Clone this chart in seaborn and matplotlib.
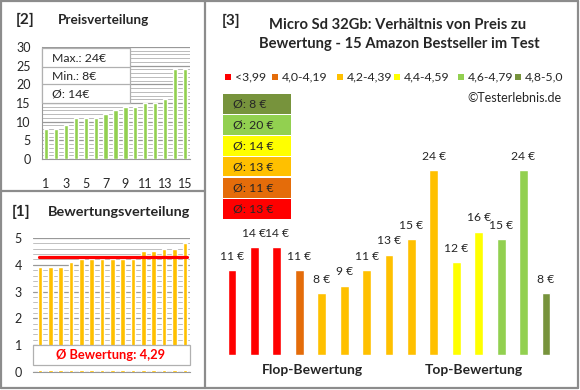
import numpy as np
import pandas as pd
import matplotlib.pyplot as plt
import seaborn as sns
from matplotlib.patches import Rectangle
from matplotlib.lines import Line2D

# data (products sorted by rating)
ratings = [3.9, 3.9, 3.9, 4.1, 4.2, 4.2, 4.2, 4.2, 4.2, 4.2, 4.5, 4.5, 4.6, 4.6, 4.8]
prices = [11, 14, 14, 11, 8, 9, 11, 13, 15, 24, 12, 16, 15, 24, 8]
avg_rating = 4.29
bin_labels = ["<3,99", "4,0-4,19", "4,2-4,39", "4,4-4,59", "4,6-4,79", "4,8-5,0"]
bin_edges = [0, 4.0, 4.2, 4.4, 4.6, 4.8, 5.01]
bin_colors = ["#FF0000", "#E46C0A", "#FFC000", "#FFFF00", "#92D050", "#77933C"]

df = pd.DataFrame({"nr": range(1, 16), "rating": ratings, "price": prices})
df["bin"] = pd.cut(df["rating"], bin_edges, right=False, labels=bin_labels)

sns.set_style("white")
plt.rcParams["font.family"] = ["Lato", "DejaVu Sans"]

W, H = 580, 390
fig = plt.figure(figsize=(W / 100, H / 100), dpi=100)


def box(l, t, r, b):
    return [l / W, 1 - b / H, (r - l) / W, (b - t) / H]


def ftext(x, y, s, **kw):
    fig.text(x / W, 1 - y / H, s, va="center", **kw)


def frect(l, t, r, b, **kw):
    fig.patches.append(Rectangle((l / W, 1 - b / H), (r - l) / W, (b - t) / H,
                                 transform=fig.transFigure, figure=fig, **kw))


def fline(x0, y0, x1, y1, color="#8c8c8c", lw=1.6):
    fig.lines.append(Line2D([x0 / W, x1 / W], [1 - y0 / H, 1 - y1 / H], color=color,
                            lw=lw, transform=fig.transFigure, figure=fig, zorder=6))


# ---- [2] Preisverteilung
ax1 = fig.add_axes(box(42, 47, 190, 159))
sorted_prices = sorted(prices)
sns.barplot(x=list(range(1, 16)), y=sorted_prices, color="#92D050", width=0.42,
            saturation=1, ax=ax1, zorder=3)
ax1.set_xlim(-0.4, 14.5)
ax1.set_ylim(0, 30)
ax1.set_yticks(range(0, 31, 5))
ax1.set_yticks(range(0, 31), minor=True)
ax1.grid(axis="y", which="major", color="#999999", lw=0.9)
ax1.grid(axis="y", which="minor", color="#bbbbbb", lw=0.7)
ax1.set_xticks(range(0, 15, 2))
ax1.set_xticklabels([str(i) for i in range(1, 16, 2)])
ax1.tick_params(axis="x", length=0, pad=14, labelsize=9)
ax1.tick_params(axis="y", length=0, pad=8, labelsize=9)
for s in ["top", "right"]:
    ax1.spines[s].set_visible(False)
for s in ["left", "bottom"]:
    ax1.spines[s].set_color("#999999")
ftext(16, 20, "[2]", fontsize=11, fontweight="bold")
ftext(58, 20, "Preisverteilung", fontsize=9.7, fontweight="bold")
frect(42, 48, 130, 103, facecolor="white", edgecolor="#b0b0b0", lw=0.9, zorder=5)
fline(42, 67, 130, 67, "#b0b0b0", 0.9)
fline(42, 84, 130, 84, "#b0b0b0", 0.9)
ftext(52, 58, f"Max.: {max(prices)}€", fontsize=8.8, zorder=6)
ftext(52, 76, f"Min.: {min(prices)}€", fontsize=8.8, zorder=6)
ftext(52, 94, f"Ø: {int(np.mean(prices) + 0.5)}€", fontsize=8.8, zorder=6)

# ---- [1] Bewertungsverteilung
ax2 = fig.add_axes(box(33, 238, 190, 372))
sns.barplot(x=df["nr"], y=df["rating"], color="#FFC000", width=0.45,
            saturation=1, ax=ax2, zorder=3)
ax2.axhline(avg_rating, xmin=0.04, xmax=0.98, color="#FF0000", lw=2.3, zorder=4)
ax2.set_xlim(-0.68, 14.5)
ax2.set_ylim(0, 5)
ax2.set_yticks(range(0, 6))
ax2.set_yticks(np.arange(0, 5.01, 0.2), minor=True)
ax2.grid(axis="y", which="major", color="#999999", lw=0.9)
ax2.grid(axis="y", which="minor", color="#c0c0c0", lw=0.7)
ax2.set_xticks([])
ax2.set_xlabel("")
ax2.set_ylabel("")
ax2.tick_params(axis="y", length=0, pad=8, labelsize=9)
for s in ["top", "right", "left"]:
    ax2.spines[s].set_visible(False)
ax2.spines["bottom"].set_color("#999999")
ftext(12, 212, "[1]", fontsize=11, fontweight="bold")
ftext(48, 212, "Bewertungsverteilung", fontsize=10.4, fontweight="bold")
frect(33, 365, 190, 371.3, facecolor="white", edgecolor="none", zorder=5)
frect(33, 345, 190, 365, facecolor="white", edgecolor="#b0b0b0", lw=0.9, zorder=5)
ftext(111, 355, "Ø Bewertung: " + f"{avg_rating:.2f}".replace(".", ","),
      fontsize=9.3, fontweight="bold", color="#FF0000", ha="center", zorder=6)

# ---- [3] Preis vs. Bewertung
ax3 = fig.add_axes(box(220.8, 123.7, 557.2, 355))
sns.barplot(data=df, x="nr", y="price", hue="bin", palette=bin_colors, width=0.4,
            dodge=False, saturation=1, legend=False, ax=ax3)
ax3.set_xlim(-0.5, 14.5)
ax3.set_ylim(0, 30)
ax3.axis("off")
for i, p in enumerate(prices):
    ax3.annotate(f"{p} €", (i, p), xytext=(0, 10), textcoords="offset points",
                 ha="center", va="center", fontsize=8.7)

ftext(222, 21, "[3]", fontsize=11, fontweight="bold")
ftext(398, 25, "Micro Sd 32Gb: Verhältnis von Preis zu", fontsize=10.6,
      fontweight="bold", ha="center")
ftext(399, 44, "Bewertung - 15 Amazon Bestseller im Test", fontsize=10.6,
      fontweight="bold", ha="center")

leg_x = [225, 272, 337, 394, 458, 515]
for x, lab, c in zip(leg_x, bin_labels, bin_colors):
    frect(x, 74, x + 6, 80, facecolor=c, edgecolor="none")
    ftext(x + 10, 77, lab, fontsize=8.8)
ftext(562, 98, "©Testerlebnis.de", fontsize=9, ha="right")

avg_by_bin = df.groupby("bin", observed=False)["price"].mean()
for k, (lab, c) in enumerate(zip(bin_labels[::-1], bin_colors[::-1])):
    top = 94 + k * 21
    frect(223, top, 291, top + 19.5, facecolor=c, edgecolor="none")
    ftext(233, top + 10, f"Ø: {int(avg_by_bin[lab] + 0.5)} €", fontsize=8.8)

ftext(312, 370, "Flop-Bewertung", fontsize=10, fontweight="bold", ha="center")
ftext(474, 370, "Top-Bewertung", fontsize=10, fontweight="bold", ha="center")

# borders
fline(1, 1, 578, 1)
fline(1, 1, 1, 388)
fline(578, 1, 578, 388)
fline(1, 388, 578, 388)
fline(205, 1, 205, 388)
fline(1, 191, 205, 191)

fig.savefig("out.png", dpi=100)
